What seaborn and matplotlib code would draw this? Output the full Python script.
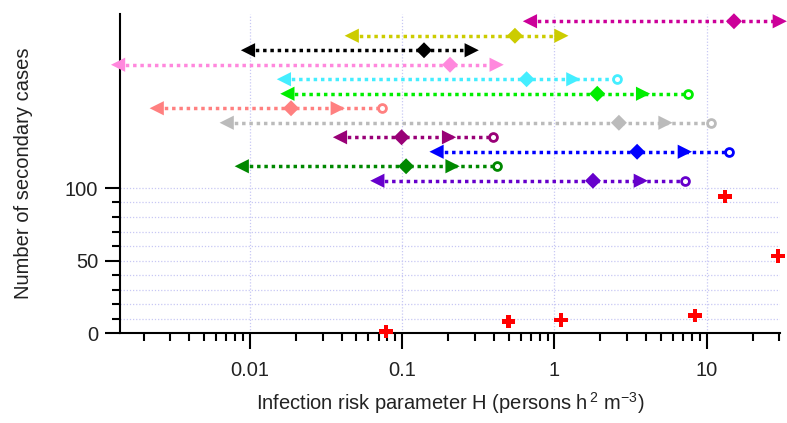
import matplotlib
matplotlib.use("Agg")
import matplotlib.pyplot as plt
import seaborn as sns
import numpy as np
import pandas as pd
from matplotlib.ticker import FixedLocator, NullFormatter, LogLocator

# ---- data -------------------------------------------------------------
row_y = [215, 205, 195, 185, 175, 165, 155, 145, 135, 125, 115, 105]
row_colors = ["#CC0099", "#CCCC00", "#000000", "#FF88DD", "#44EEFF", "#00EE00",
              "#FF8080", "#BBBBBB", "#990077", "#0000FF", "#008800", "#6600CC"]
row_low = [0.69, 0.0466, 0.0097, 0.00136, 0.0167, 0.0176,
           0.00244, 0.00703, 0.039, 0.168, 0.00883, 0.0686]
row_mid = [15.1, 0.55, 0.139, 0.206, 0.656, 1.91,
           0.0186, 2.65, 0.099, 3.49, 0.106, 1.79]
row_high = [30.2, 1.11, 0.286, 0.417, 1.33, 3.82,
            0.0377, 5.36, 0.203, 7.18, 0.214, 3.69]
row_max = [None, None, None, None, 2.58, 7.55,
           0.0733, 10.6, 0.396, 13.97, 0.422, 7.18]

obs_H = [0.078, 0.50, 1.10, 8.4, 13.2, 29.5]
obs_cases = [1, 8, 9, 12, 94, 53]

x_ticks = [0.01, 0.1, 1, 10]
x_tick_labels = ["0.01", "0.1", "1", "10"]
y_ticks = [0, 50, 100]

# ---- style ------------------------------------------------------------
sns.set_style("ticks")
plt.rcParams["font.family"] = ["Liberation Sans", "DejaVu Sans"]
plt.rcParams["mathtext.fontset"] = "custom"
plt.rcParams["mathtext.rm"] = "Liberation Sans"

fig = plt.figure(figsize=(7.87, 4.23), dpi=100)
ax = fig.add_axes([120 / 787, 1 - 333 / 423, 660 / 787, 319 / 423])
ax.set_xscale("log")

dot = (0, (1, 1.1))
for i, y in enumerate(row_y):
    c = row_colors[i]
    end = row_max[i] if row_max[i] is not None else row_high[i]
    ldf = pd.DataFrame({"H": [row_low[i], end], "n": [y, y]})
    n_before = len(ax.lines)
    sns.lineplot(data=ldf, x="H", y="n", ax=ax, color=c, linewidth=2.5,
                 linestyle=dot, estimator=None, sort=False, zorder=2)
    for ln in ax.lines[n_before:]:
        ln.set_linewidth(2.5)
        ln.set_linestyle(dot)
        ln.set_dash_capstyle("butt")
    sns.scatterplot(x=[row_low[i]], y=[y], ax=ax, marker="<", s=105,
                    color=c, edgecolor="none", linewidth=0, clip_on=False, zorder=3)
    sns.scatterplot(x=[row_mid[i]], y=[y], ax=ax, marker="D", s=66,
                    color=c, edgecolor="none", linewidth=0, clip_on=False, zorder=3)
    sns.scatterplot(x=[row_high[i]], y=[y], ax=ax, marker=">", s=105,
                    color=c, edgecolor="none", linewidth=0, clip_on=False, zorder=3)
    if row_max[i] is not None:
        sns.scatterplot(x=[row_max[i]], y=[y], ax=ax, marker="o", s=32,
                        facecolor="white", edgecolor=c, linewidth=2.0,
                        clip_on=False, zorder=3)

sns.scatterplot(x=obs_H, y=obs_cases, ax=ax, marker="P", s=95, color="#FF0000",
                edgecolor="none", linewidth=0, clip_on=False, zorder=4)

ax.set_xlim(0.0014, 30.3)
ax.set_ylim(0, 220)

ax.xaxis.set_major_locator(FixedLocator(x_ticks))
ax.set_xticklabels(x_tick_labels)
ax.xaxis.set_minor_locator(LogLocator(base=10, subs=np.arange(2, 10), numticks=20))
ax.xaxis.set_minor_formatter(NullFormatter())
ax.yaxis.set_major_locator(FixedLocator(y_ticks))
ax.yaxis.set_minor_locator(FixedLocator(list(range(10, 100, 10))))

gcol = "#C8C8F4"
ax.grid(False)
ax.grid(True, which="major", axis="x", color=gcol, linestyle=(0, (1, 1.5)), lw=0.9)
ax.grid(True, which="both", axis="y", color=gcol, linestyle=(0, (1, 1.5)), lw=0.9)
ax.set_axisbelow(True)

for s in ["top", "right"]:
    ax.spines[s].set_visible(False)
for s in ["left", "bottom"]:
    ax.spines[s].set_linewidth(1.5)
    ax.spines[s].set_color("black")

ax.tick_params(axis="x", which="major", length=11.5, width=1.5, pad=9,
               labelsize=14.5, color="black", labelcolor="#222222")
ax.tick_params(axis="x", which="minor", length=6, width=1.5, color="black")
ax.tick_params(axis="y", which="major", length=10.8, width=1.5, pad=5,
               labelsize=14.5, color="black", labelcolor="#222222")
ax.tick_params(axis="y", which="minor", length=5.8, width=1.5, color="black")

ax.set_xlabel(r"Infection risk parameter H (persons h$^{\,2}$ m$^{-3}$)",
              fontsize=14.5, color="#222222")
ax.set_ylabel("Number of secondary cases", fontsize=14.5, color="#222222")
ax.xaxis.set_label_coords(0.5, -0.18)
ax.yaxis.set_label_coords(-0.132, 0.5)

fig.savefig("out.png", dpi=100)
